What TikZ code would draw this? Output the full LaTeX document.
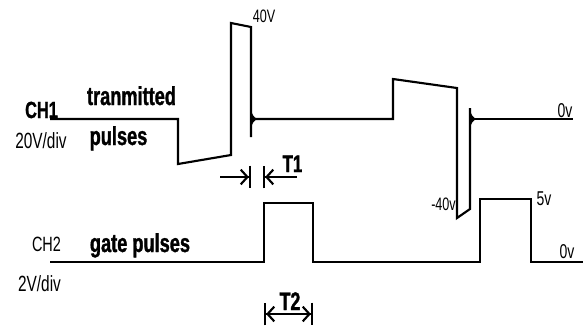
\documentclass[tikz,border=0pt]{standalone}
\usepackage{fontspec}
\usepackage{tikz}
\usetikzlibrary{arrows.meta}
\newfontfamily\wavefont[FakeStretch=0.7,BoldFeatures={FakeBold=1.2}]{Liberation Sans}

\begin{document}
\begin{tikzpicture}[x=0.75pt,y=-0.75pt,
  wave/.style={line width=1.6pt,line join=miter},
  lbl/.style={font=\wavefont\bfseries,inner sep=0pt,anchor=base},
  small/.style={font=\wavefont,inner sep=0pt,anchor=base},
  dim/.style={line width=1.6pt},
  stop/.style={-{Straight Barb[length=5pt,width=11pt,sep=0pt]Bar[width=17pt]}}]
\useasboundingbox (0,0) rectangle (588,330);
% CH1: transmitted pulses
\draw[wave] (50,119) -- (178,119) -- (178,164) -- (231,155) -- (231,23) -- (251,27) -- (251,137);
\fill (251,110) .. controls (253,116) .. (257,119) .. controls (253,122) .. (251,128) -- cycle;
\draw[wave] (254,119) -- (393,119) -- (393,79) -- (457,88) -- (457,218) -- (470,209) -- (470,108);
\fill (470,110) .. controls (472,116) .. (476,119) .. controls (472,122) .. (470,128) -- cycle;
\draw[wave] (473,119) -- (573,119);
% CH2: gate pulses
\draw[wave] (50,262) -- (264,262) -- (264,203) -- (313,203) -- (313,262) -- (480,262)
  -- (480,199) -- (531,199) -- (531,262) -- (583,262);
% labels
\node[lbl,font=\wavefont\bfseries\fontsize{17.5}{18}\selectfont] (ch1) at (41.5,118) {CH1};
\node[small,font=\wavefont\fontsize{16.5}{17}\selectfont] (ch1scale) at (41,148) {20V/div};
\node[lbl,font=\wavefont\bfseries\fontsize{19.5}{20}\selectfont] (txtop) at (131.5,105) {tranmitted};
\node[lbl,font=\wavefont\bfseries\fontsize{19.5}{20}\selectfont] (txbot) at (118.5,145) {pulses};
\node[small,font=\wavefont\fontsize{13.5}{14}\selectfont] (v40) at (264,22) {40V};
\node[small,font=\wavefont\fontsize{15}{16}\selectfont] (v0top) at (565,117) {0v};
\node[small,font=\wavefont\fontsize{15.5}{16}\selectfont] (ch2) at (46.5,251) {CH2};
\node[small,font=\wavefont\fontsize{16.5}{17}\selectfont] (ch2scale) at (39.5,291) {2V/div};
\node[lbl,font=\wavefont\bfseries\fontsize{19.5}{20}\selectfont] (gatelbl) at (140,252) {gate pulses};
\node[small,font=\wavefont\fontsize{13.5}{14}\selectfont] (vneg40) at (443.5,210) {-40v};
\node[small,font=\wavefont\fontsize{15}{16}\selectfont] (v5) at (544,205) {5v};
\node[small,font=\wavefont\fontsize{15}{16}\selectfont] (v0bot) at (567,258) {0v};
% T1 and T2 markers
\coordinate (t1a) at (220,177);
\coordinate (t1b) at (251,177);
\coordinate (t1c) at (297,177);
\coordinate (t1d) at (263,177);
\draw[dim,stop] (t1a) -- (t1b);
\draw[dim,stop] (t1c) -- (t1d);
\node[lbl,font=\wavefont\bfseries\fontsize{18}{19}\selectfont] (t1lbl) at (292.5,172) {T1};
\coordinate (t2a) at (264,314);
\coordinate (t2b) at (313,314);
\draw[dim,{Bar[width=17pt]Straight Barb[length=5pt,width=11pt,sep=0pt]}-{Straight Barb[length=5pt,width=11pt,sep=0pt]Bar[width=17pt]}] (t2a) -- (t2b);
\node[lbl,font=\wavefont\bfseries\fontsize{19}{20}\selectfont] (t2lbl) at (290,310) {T2};
\end{tikzpicture}
\end{document}
